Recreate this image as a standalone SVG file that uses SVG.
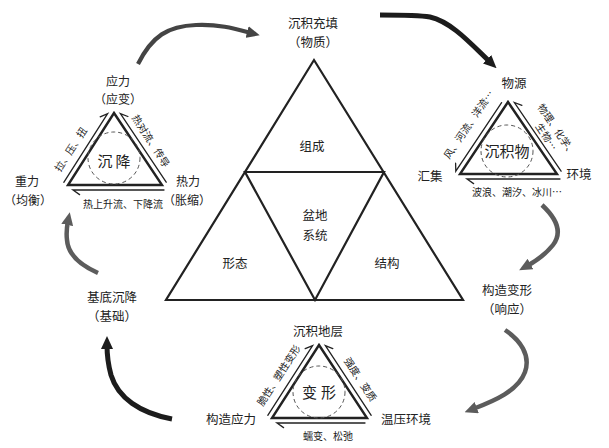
<svg xmlns="http://www.w3.org/2000/svg" width="609" height="448" viewBox="0 0 609 448">
<style>
text{font-family:"Noto Sans CJK SC","Noto Sans CJK TC",sans-serif;fill:#222;text-anchor:middle;dominant-baseline:central}
.lb{font-size:12.5px}
.lc{font-size:12px}
.sm{font-size:10px}
.in{font-size:15px}
.big{fill:none;stroke:#222;stroke-width:2.2;stroke-linejoin:miter}
.tri{fill:none;stroke:#222;stroke-width:2.4;stroke-linejoin:miter}
.hp{fill:none;stroke:#222;stroke-width:1.3;stroke-linecap:round}
.ring{fill:none;stroke:#555;stroke-width:1;stroke-dasharray:4 3}
.ak{fill:none;stroke:#1c1c1c;stroke-width:5}
.am{fill:none;stroke:#444;stroke-width:4.2}
.ag{fill:none;stroke:#5c5c5c;stroke-width:4.5}
</style>
<defs>
<marker id="hk" markerWidth="13" markerHeight="12" refX="4" refY="6" orient="auto" markerUnits="userSpaceOnUse"><path d="M0,0 L13,6 L0,12 z" fill="#1c1c1c"/></marker>
<marker id="hm" markerWidth="13" markerHeight="12" refX="4" refY="6" orient="auto" markerUnits="userSpaceOnUse"><path d="M0,0 L13,6 L0,12 z" fill="#444"/></marker>
<marker id="hg" markerWidth="13" markerHeight="12" refX="4" refY="6" orient="auto" markerUnits="userSpaceOnUse"><path d="M0,0 L13,6 L0,12 z" fill="#5c5c5c"/></marker>
</defs>
<rect width="609" height="448" fill="#fff"/>

<g id="connectors">
<path class="am" d="M138,64 C152,36 168,26 196,25 C220,24 236,29 251,33" marker-end="url(#hm)"/>
<path class="ak" d="M380,15 C400,15 418,15 430,17 C452,22 472,45 490,62" marker-end="url(#hk)"/>
<path class="ag" d="M542,205 C556,218 563,232 553,245 C545,255 536,261 527,266" marker-end="url(#hg)"/>
<path class="ag" d="M505,330 C520,340 531,355 525,372 C518,391 494,401 473,409" marker-end="url(#hg)"/>
<path class="ak" d="M172,419 C140,413 118,398 111,375 C108,364 107,352 107,345" marker-end="url(#hk)"/>
<path class="ag" d="M98,273 C80,265 68,255 67,240 C66,232 67,226 68,221" marker-end="url(#hg)"/>
</g>

<g id="basin-system">
<path class="big" d="M314,60 L463,300 L166,300 Z"/>
<path class="big" d="M245,172 L384,172 L315,300 Z"/>
<text class="lb" x="312" y="145">组成</text>
<text class="lb" x="315" y="214">盆地</text>
<text class="lb" x="315" y="234">系统</text>
<text class="lb" x="235" y="262">形态</text>
<text class="lb" x="387" y="262">结构</text>
</g>

<g id="fill-label">
<text class="lb" x="313" y="22">沉积充填</text>
<text class="lb" x="313" y="41">（物质）</text>
</g>
<g id="deform-label">
<text class="lb" x="507" y="289">构造变形</text>
<text class="lb" x="507" y="308">（响应）</text>
</g>
<g id="basement-label">
<text class="lb" x="112" y="296">基底沉降</text>
<text class="lb" x="112" y="315">（基础）</text>
</g>

<g id="subsidence">
<path class="tri" d="M114,113 L162,185 L68,185 Z"/>
<circle class="ring" cx="114" cy="158" r="26"/>
<path class="hp" d="M63.8,182.3 L107.6,113.7 L100.2,116.8"/>
<path class="hp" d="M166.2,182.2 L120.4,113.6 L127.9,116.5"/>
<path class="hp" d="M164,190 L73,190 L79.6,194.6"/>
<text class="in" x="115.5" y="160" style="letter-spacing:3px">沉降</text>
<text class="lc" x="118" y="80">应力</text>
<text class="lc" x="118" y="98">（应变）</text>
<text class="lc" x="27" y="180">重力</text>
<text class="lc" x="28" y="199">（均衡）</text>
<text class="lc" x="188" y="180">热力</text>
<text class="lc" x="187" y="199">（胀缩）</text>
<text class="sm" transform="translate(70,149) rotate(-57)">拉、压、扭</text>
<text class="sm" transform="translate(151.5,140.5) rotate(57)">热对流、传导</text>
<text class="sm" x="123" y="203">热上升流、下降流</text>
</g>

<g id="sediment">
<path class="tri" d="M508,102 L557,174 L460,174 Z"/>
<circle class="ring" cx="507" cy="151" r="26"/>
<path class="hp" d="M501.6,102.6 L455.8,171.2 L455.6,163.2"/>
<path class="hp" d="M561.1,171.2 L514.4,102.5 L521.9,105.3"/>
<path class="hp" d="M560,179 L467,179 L473.6,183.6"/>
<text class="in" x="507" y="150">沉积物</text>
<text class="lb" x="514" y="82">物源</text>
<text class="lb" x="430" y="175">汇集</text>
<text class="lb" x="579" y="173">环境</text>
<text class="sm" transform="translate(468,124) rotate(-56)">风、河流、洋流…</text>
<text class="sm" transform="translate(558,129) rotate(56)"><tspan x="0" y="0">物理、化学、</tspan><tspan x="0" y="12.5">生物…</tspan></text>
<text class="sm" x="517" y="191">波浪、潮汐、冰川…</text>
</g>

<g id="deformation">
<path class="tri" d="M319,345 L367,418 L272,418 Z"/>
<circle class="ring" cx="319" cy="392" r="26"/>
<path class="hp" d="M267.8,415.3 L312.6,345.7 L305.2,348.7"/>
<path class="hp" d="M371.2,415.3 L325.4,345.6 L332.8,348.6"/>
<path class="hp" d="M365,423 L277,423 L283.6,427.6"/>
<text class="in" x="321" y="391" style="letter-spacing:4px">变形</text>
<text class="lb" x="318" y="330">沉积地层</text>
<text class="lb" x="231" y="418">构造应力</text>
<text class="lb" x="406" y="418">温压环境</text>
<text class="sm" transform="translate(278,375) rotate(-57)">脆性、塑性变形</text>
<text class="sm" transform="translate(361,379) rotate(57)">强度、变质</text>
<text class="sm" x="328" y="435">蠕变、松弛</text>
</g>
</svg>
